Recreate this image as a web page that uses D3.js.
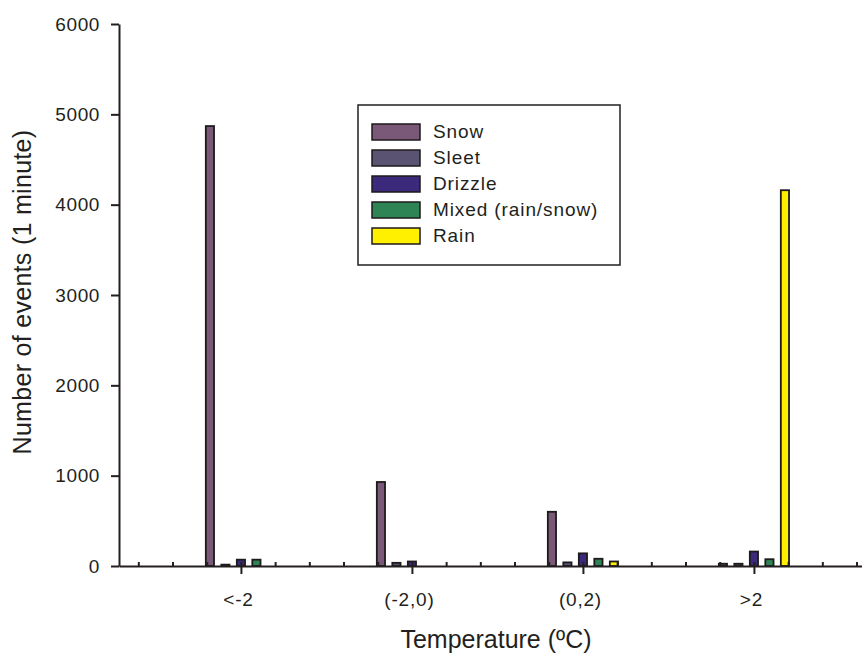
<!DOCTYPE html>
<html>
<head>
<meta charset="utf-8">
<script src="https://cdn.jsdelivr.net/npm/d3@7"></script>
<style>
    body{ margin:0; background:#fff; }
    text{ font-family:"Liberation Sans", Arial, sans-serif; fill:#231f20; }
    .axis path, .axis line{ stroke:#231f20; stroke-width:2; }
</style>
</head>
<body>
<script>
//chart data
var categories = ["<-2", "(-2,0)", "(0,2)", ">2"];
var series = ["Snow", "Sleet", "Drizzle", "Mixed (rain/snow)", "Rain"];
var snow = [4870, 930, 600, 25];
var sleet = [15, 35, 40, 25];
var drizzle = [70, 50, 140, 160];
var mixed = [70, 0, 80, 75];
var rain = [0, 0, 50, 4160];
var colors = ["#7a5878", "#5a5372", "#3b2a7c", "#2f8455", "#fff000"];
var yTicks = [0, 1000, 2000, 3000, 4000, 5000, 6000];

window.onload = setChart();

function setChart(){
    var width = 862,
        height = 656;

    var svg = d3.select("body")
        .append("svg")
        .attr("width", width)
        .attr("height", height);

    //category index -> x position
    var x = d3.scaleLinear()
        .domain([-0.713, 3.632])
        .range([119, 862]);

    var y = d3.scaleLinear()
        .domain([0, 6000])
        .range([566, 24]);

    //position of each series inside a group
    var inner = d3.scaleBand()
        .domain(series)
        .range([-38.75, 38.75])
        .paddingInner(0.355)
        .paddingOuter(0.1775);

    var values = [snow, sleet, drizzle, mixed, rain];
    var rows = [];
    series.forEach(function(s, i){
        categories.forEach(function(c, j){
            rows.push({series: s, idx: j, value: values[i][j], color: colors[i]});
        });
    });

    //bars
    svg.selectAll(".bar")
        .data(rows.filter(function(d){ return d.value > 0; }))
        .enter()
        .append("rect")
        .attr("class", "bar")
        .attr("x", function(d){ return x(d.idx) + inner(d.series) + 0.9; })
        .attr("y", function(d){ return y(d.value); })
        .attr("width", inner.bandwidth() - 1.8)
        .attr("height", function(d){ return y(0) - y(d.value); })
        .attr("fill", function(d){ return d.color; })
        .attr("stroke", "#1e1a1c")
        .attr("stroke-width", 1.8);

    //minor ticks on x axis (pointing up)
    var minor = d3.range(-3, 19).map(function(k){ return k * 0.2; });
    svg.append("g")
        .attr("class", "axis")
        .attr("transform", "translate(0," + y(0) + ")")
        .call(d3.axisTop(x).tickValues(minor).tickSize(4).tickFormat(""))
        .select(".domain").remove();

    //x axis
    var xAxis = svg.append("g")
        .attr("class", "axis")
        .attr("transform", "translate(0," + y(0) + ")")
        .call(d3.axisBottom(x)
            .tickValues(d3.range(categories.length))
            .tickFormat(function(i){ return categories[i]; })
            .tickSize(8)
            .tickSizeOuter(0)
            .tickPadding(19));
    xAxis.selectAll("text")
        .style("font-size", "19px")
        .style("letter-spacing", "0.8px")
        .attr("fill", "#231f20")
        .attr("dx", "-3");

    //y axis
    var yAxis = svg.append("g")
        .attr("class", "axis")
        .attr("transform", "translate(119,0)")
        .call(d3.axisLeft(y)
            .tickValues(yTicks)
            .tickFormat(d3.format("d"))
            .tickSize(8)
            .tickSizeOuter(0)
            .tickPadding(11));
    yAxis.selectAll("text")
        .style("font-size", "19px")
        .style("letter-spacing", "0.6px")
        .attr("fill", "#231f20");

    //axis titles
    svg.append("text")
        .attr("x", 496)
        .attr("y", 648)
        .attr("text-anchor", "middle")
        .style("font-size", "25px")
        .text("Temperature (ºC)");

    svg.append("text")
        .attr("transform", "translate(31,292) rotate(-90)")
        .attr("text-anchor", "middle")
        .style("font-size", "25px")
        .style("letter-spacing", "0.3px")
        .text("Number of events (1 minute)");

    //legend
    var legend = svg.append("g")
        .attr("transform", "translate(358,105)");

    legend.append("rect")
        .attr("width", 262)
        .attr("height", 160)
        .attr("fill", "#fff")
        .attr("stroke", "#231f20")
        .attr("stroke-width", 1.5);

    var item = legend.selectAll(".item")
        .data(series)
        .enter()
        .append("g")
        .attr("class", "item")
        .attr("transform", function(d, i){ return "translate(0," + (19 + i * 26) + ")"; });

    item.append("rect")
        .attr("x", 14)
        .attr("width", 48)
        .attr("height", 16)
        .attr("fill", function(d, i){ return colors[i]; })
        .attr("stroke", "#1e1a1c")
        .attr("stroke-width", 1.5);

    item.append("text")
        .attr("x", 75)
        .attr("y", 14)
        .style("font-size", "19px")
        .style("letter-spacing", "0.9px")
        .text(function(d){ return d; });
};
</script>
</body>
</html>
